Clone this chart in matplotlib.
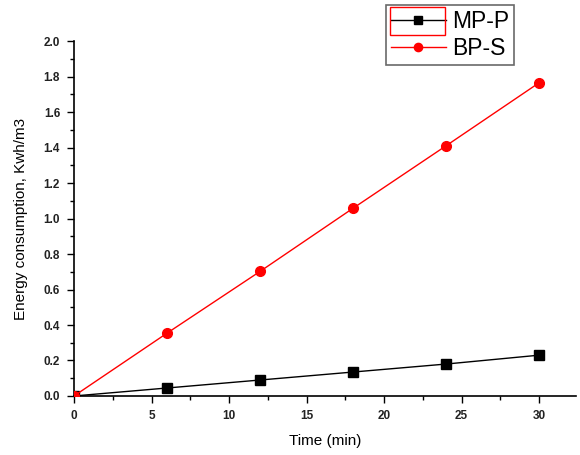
import matplotlib.pyplot as plt
from matplotlib.patches import Rectangle
from matplotlib.ticker import MultipleLocator

plt.rcParams['font.family'] = ['Liberation Sans', 'DejaVu Sans']

time_min = [0, 6, 12, 18, 24, 30]
mp_p = [0.0, 0.045, 0.09, 0.135, 0.18, 0.23]
bp_s = [0.0, 0.354, 0.702, 1.058, 1.41, 1.765]

fig = plt.figure(figsize=(5.8, 4.55), dpi=100)
ax = fig.add_axes([0.1276, 0.1297, 0.866, 0.78])

ax.plot(time_min, mp_p, color='black', marker='s', markersize=7, linewidth=1, label='MP-P', zorder=3)
ax.plot(time_min, bp_s, color='red', marker='o', markersize=7, linewidth=1, label='BP-S', zorder=4)

ax.set_xlim(0, 32.4)
ax.set_ylim(0, 2.0)
ax.xaxis.set_major_locator(MultipleLocator(5))
ax.xaxis.set_minor_locator(MultipleLocator(2.5))
ax.yaxis.set_major_locator(MultipleLocator(0.2))
ax.yaxis.set_minor_locator(MultipleLocator(0.1))
ax.yaxis.set_major_formatter(plt.FormatStrFormatter('%.1f'))

for side in ['top', 'right']:
    ax.spines[side].set_visible(False)
for side in ['left', 'bottom']:
    ax.spines[side].set_linewidth(1.2)

ax.tick_params(which='major', direction='out', length=5, width=1, labelsize=8.5, pad=5,
               labelcolor='#222222')
ax.tick_params(which='minor', direction='out', length=3, width=1)
for lbl in ax.get_xticklabels() + ax.get_yticklabels():
    lbl.set_fontweight('bold')
ax.set_xlabel('Time (min)', fontsize=11, labelpad=9)
ax.set_ylabel('Energy consumption, Kwh/m3', fontsize=11, labelpad=11)

leg = fig.legend(loc='upper left', bbox_to_anchor=(386 / 580, 1 - 5 / 455),
                 fontsize=16.5, frameon=True, fancybox=False, edgecolor='#444444',
                 handlelength=2.4, handletextpad=0.3, borderpad=0.2,
                 labelspacing=0.2, borderaxespad=0, markerscale=0.85)
leg.get_frame().set_linewidth(1.2)

# red selection box around the first legend entry, as in the original
fig.canvas.draw()
lb = leg.get_frame().get_window_extent().transformed(fig.transFigure.inverted())
box = Rectangle((lb.x0 + lb.width * 4 / 128, lb.y1 - lb.height * 30 / 59),
                lb.width * 55 / 128, lb.height * 28 / 59,
                transform=fig.transFigure, fill=False, edgecolor='red', linewidth=1, zorder=10)
fig.add_artist(box)

plt.savefig('out.png', dpi=100)
